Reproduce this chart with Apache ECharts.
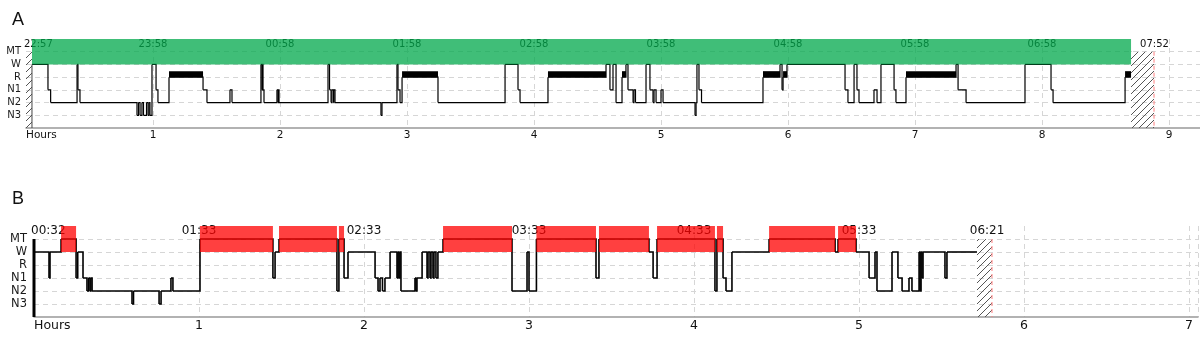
<!DOCTYPE html>
<html>
<head>
<meta charset="utf-8">
<script src="https://cdn.jsdelivr.net/npm/echarts@6/dist/echarts.min.js"></script>
<style>
  html, body { margin: 0; background: #fff; }
  #chart { width: 1200px; height: 351px; }
</style>
</head>
<body>
<div id="chart"></div>
<script>
// 纵轴分期 (0 和 7 只作留白)
const stageNames = ['', 'N3', 'N2', 'N1', 'R', 'W', 'MT', '']

// A: [小时, 分期] 每个点表示从该时刻起的分期
const hypnoA = [
  [0.047, 5], [0.173, 3], [0.194, 2], [0.402, 5], [0.409, 3], [0.425, 2],
  [0.874, 1], [0.886, 2], [0.898, 1], [0.913, 2], [0.925, 1], [0.949, 2], [0.961, 1], [0.969, 2], [0.976, 1],
  [0.992, 5], [1.024, 3], [1.039, 2], [1.126, 4], [1.394, 3], [1.425, 2], [1.606, 3], [1.622, 2],
  [1.85, 5], [1.858, 3], [1.862, 5], [1.866, 3], [1.874, 2], [1.976, 3], [1.984, 2], [1.988, 3], [1.992, 2],
  [2.378, 5], [2.39, 3], [2.402, 2], [2.409, 3], [2.421, 2], [2.425, 3], [2.433, 2],
  [2.795, 1], [2.803, 2], [2.921, 5], [2.929, 3], [2.945, 2], [2.961, 4], [3.244, 2],
  [3.772, 5], [3.874, 3], [3.89, 2], [4.11, 4], [4.567, 5], [4.598, 3], [4.622, 5], [4.646, 2],
  [4.693, 4], [4.724, 5], [4.74, 3], [4.78, 2], [4.787, 3], [4.799, 2],
  [4.882, 5], [4.913, 3], [4.937, 2], [4.945, 3], [4.961, 2], [5.0, 3], [5.016, 2],
  [5.268, 1], [5.276, 2], [5.283, 5], [5.299, 3], [5.319, 2],
  [5.803, 4], [5.937, 5], [5.953, 3], [5.961, 4], [5.992, 5],
  [6.449, 3], [6.472, 2], [6.52, 5], [6.543, 3], [6.559, 2], [6.677, 3], [6.701, 2], [6.732, 5], [6.835, 3], [6.85, 2],
  [6.929, 4], [7.323, 5], [7.339, 3], [7.402, 2], [7.866, 5], [8.071, 3], [8.087, 2], [8.654, 4], [8.701, 4]
]
const remA = [[1.126, 1.394], [2.961, 3.244], [4.11, 4.567], [4.693, 4.724], [5.803, 5.937], [5.961, 5.992], [6.929, 7.323], [8.654, 8.701]]
const bandA = [[0.047, 8.701]]
const hatchA = [[0, 0.047], [8.701, 8.882]]
const endA = [8.882]
const clockPosA = [0, 1, 2, 3, 4, 5, 6, 7, 8, 8.886]
const clockTextA = ['22:57', '23:58', '00:58', '01:58', '02:58', '03:58', '04:58', '05:58', '06:58', '07:52']

// B
const hypnoB = [
  [0, 5], [0.091, 3], [0.097, 5], [0.164, 6], [0.255, 3], [0.265, 5], [0.297, 3], [0.321, 2], [0.33, 3], [0.339, 2], [0.345, 3], [0.352, 2],
  [0.594, 1], [0.603, 2], [0.758, 1], [0.77, 2], [0.83, 3], [0.842, 2],
  [1.006, 6], [1.448, 3], [1.461, 5], [1.485, 6], [1.836, 2], [1.848, 6], [1.879, 3], [1.903, 5],
  [2.067, 3], [2.085, 2], [2.097, 3], [2.112, 2], [2.127, 3], [2.158, 5],
  [2.2, 3], [2.206, 5], [2.212, 3], [2.218, 5], [2.224, 2], [2.309, 3], [2.315, 2], [2.321, 3], [2.352, 5],
  [2.382, 3], [2.388, 5], [2.4, 3], [2.406, 5], [2.418, 3], [2.424, 5], [2.436, 3], [2.448, 5],
  [2.479, 6], [2.897, 2], [2.988, 5], [3.0, 2], [3.045, 6], [3.406, 3], [3.424, 6], [3.727, 5], [3.752, 3], [3.776, 6],
  [4.127, 2], [4.139, 6], [4.176, 3], [4.194, 2], [4.23, 5], [4.455, 6], [4.855, 5], [4.873, 6], [4.982, 5],
  [5.061, 3], [5.097, 5], [5.109, 2], [5.2, 5], [5.236, 3], [5.261, 2], [5.303, 3], [5.321, 2],
  [5.364, 5], [5.37, 2], [5.376, 5], [5.382, 3], [5.388, 5], [5.521, 3], [5.533, 5], [5.715, 5]
]
const bandB = [[0.164, 0.255], [1.006, 1.448], [1.485, 1.836], [1.848, 1.879], [2.479, 2.897], [3.045, 3.406], [3.424, 3.727], [3.776, 4.127], [4.139, 4.176], [4.455, 4.855], [4.873, 4.982]]
const hatchB = [[5.715, 5.806]]
const endB = [5.806]
const clockPosB = [0, 1, 2, 3, 4, 5, 5.776]
const clockTextB = ['00:32', '01:33', '02:33', '03:33', '04:33', '05:33', '06:21']

const FONT = 'DejaVu Sans'

// 斜线填充
const hatchCanvas = (() => {
  const c = document.createElement('canvas')
  c.width = 7
  c.height = 7
  const g = c.getContext('2d')
  g.strokeStyle = '#555'
  g.lineWidth = 1
  g.beginPath()
  g.moveTo(0, 7); g.lineTo(7, 0)
  g.moveTo(-1, 1); g.lineTo(1, -1)
  g.moveTo(6, 8); g.lineTo(8, 6)
  g.stroke()
  return c
})()

// 区间矩形 (色带 / REM 粗条 / 斜线区)
const spanSeries = (idx, data, lo, hi, style, z) => ({
  type: 'custom',
  xAxisIndex: idx,
  yAxisIndex: idx,
  z,
  silent: true,
  data,
  renderItem: (params, api) => {
    const a = api.coord([api.value(0), hi])
    const b = api.coord([api.value(1), lo])
    return {
      type: 'rect',
      shape: { x: a[0], y: a[1], width: b[0] - a[0], height: b[1] - a[1] },
      style: Object.assign({}, style)
    }
  }
})

// 竖线
const vlineSeries = (idx, data, lo, hi, style, z) => ({
  type: 'custom',
  xAxisIndex: idx,
  yAxisIndex: idx,
  z,
  silent: true,
  data: data.map((v) => [v]),
  renderItem: (params, api) => {
    const a = api.coord([api.value(0), hi])
    const b = api.coord([api.value(0), lo])
    return {
      type: 'line',
      shape: { x1: a[0], y1: a[1], x2: b[0], y2: b[1] },
      style: Object.assign({ fill: null }, style)
    }
  }
})

// 顶部时刻标签
const clockSeries = (idx, pos, texts, size, dy, dxFirst) => ({
  type: 'custom',
  xAxisIndex: idx,
  yAxisIndex: idx,
  z: 1,
  silent: true,
  data: pos.map((v) => [v]),
  renderItem: (params, api) => {
    const p = api.coord([api.value(0), 7])
    const first = params.dataIndex === 0
    return {
      type: 'text',
      x: p[0] + (first ? dxFirst : 0),
      y: p[1] + dy,
      style: {
        text: texts[params.dataIndex],
        fill: '#111',
        fontSize: size,
        fontFamily: FONT,
        align: first ? 'left' : 'center',
        verticalAlign: 'middle'
      }
    }
  }
})

// 阶梯线: 每段 = 水平段 + 到下一分期的竖线
const hypnoSeries = (idx, pts, width) => ({
  type: 'custom',
  xAxisIndex: idx,
  yAxisIndex: idx,
  z: 3,
  silent: true,
  data: pts.slice(0, -1).map((p, i) => [p[0], pts[i + 1][0], p[1], pts[i + 1][1]]),
  renderItem: (params, api) => {
    const a = api.coord([api.value(0), api.value(2)])
    const b = api.coord([api.value(1), api.value(2)])
    const c = api.coord([api.value(1), api.value(3)])
    return {
      type: 'polyline',
      shape: { points: [a, b, c] },
      style: { stroke: '#000', lineWidth: width, fill: null }
    }
  }
})

const makeX = (idx, max, size, margin) => ({
  type: 'value',
  gridIndex: idx,
  min: 0,
  max,
  interval: 1,
  axisLine: { show: true, lineStyle: { color: '#999', width: 1.5 } },
  axisTick: { show: false },
  axisLabel: {
    color: '#111',
    fontSize: size,
    fontFamily: FONT,
    margin,
    alignMinLabel: 'left',
    showMaxLabel: false,
    formatter: (v) => (v === 0 ? 'Hours' : String(v))
  },
  splitLine: { show: true, showMinLine: false, lineStyle: { color: '#d6d6d6', type: [5, 4] } }
})

const makeY = (idx, size, margin) => ({
  type: 'value',
  gridIndex: idx,
  min: 0,
  max: 7,
  interval: 1,
  axisLine: { show: false },
  axisTick: { show: false },
  axisLabel: {
    color: '#1a1a1a',
    fontSize: size,
    fontFamily: FONT,
    margin,
    formatter: (v) => stageNames[v] || ''
  },
  splitLine: { show: true, showMinLine: false, showMaxLine: false, lineStyle: { color: '#d6d6d6', type: [5, 4] } }
})

const hatchStyle = { fill: { image: hatchCanvas, repeat: 'repeat' } }

const chart = echarts.init(document.getElementById('chart'))
chart.setOption({
  animation: false,
  graphic: [
    { type: 'text', left: 12, top: 11, style: { text: 'A', fontSize: 18, fontFamily: 'Liberation Sans', fill: '#111' } },
    { type: 'text', left: 12, top: 190, style: { text: 'B', fontSize: 18, fontFamily: 'Liberation Sans', fill: '#111' } }
  ],
  grid: [
    { left: 26, right: 0, top: 39, height: 89 },
    { left: 34, right: 2, top: 226, height: 91 }
  ],
  xAxis: [makeX(0, 9.244, 10.5, 2), makeX(1, 7.0545, 12.5, 2)],
  yAxis: [makeY(0, 10, 5), makeY(1, 11.5, 7)],
  series: [
    clockSeries(0, clockPosA, clockTextA, 10, 5, -2),
    hypnoSeries(0, hypnoA, 1.2),
    spanSeries(0, remA, 4, 4.47, { fill: '#000' }, 3),
    spanSeries(0, hatchA, 0, 6, hatchStyle, 4),
    spanSeries(0, bandA, 5, 7, { fill: 'rgba(0,168,75,0.75)' }, 5),
    vlineSeries(0, [hatchA[0][1]], 0, 5, { stroke: '#444', lineWidth: 1 }, 6),
    vlineSeries(0, endA, 0, 6, { stroke: '#ff7f7f', lineWidth: 1, lineDash: [4, 3] }, 6),

    clockSeries(1, clockPosB, clockTextB, 12, 4.5, -3),
    hypnoSeries(1, hypnoB, 1.6),
    spanSeries(1, hatchB, 0, 6, hatchStyle, 4),
    spanSeries(1, bandB, 5, 7, { fill: 'rgba(255,0,0,0.75)' }, 5),
    vlineSeries(1, [hypnoB[0][0]], 0, 6, { stroke: '#000', lineWidth: 3 }, 6),
    vlineSeries(1, endB, 0, 6, { stroke: '#ff7f7f', lineWidth: 1, lineDash: [4, 3] }, 6)
  ]
})
</script>
</body>
</html>
